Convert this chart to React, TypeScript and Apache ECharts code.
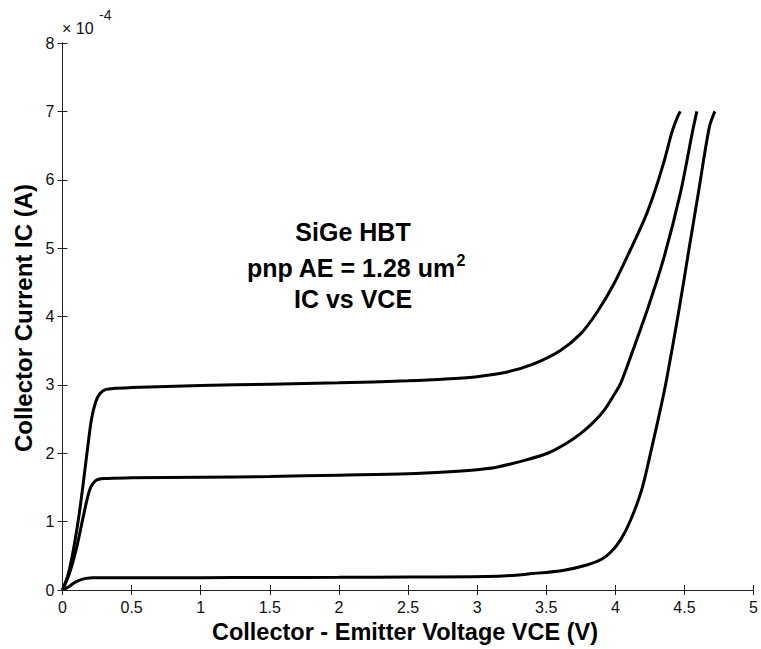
import React, { useEffect, useRef } from "react";
import * as echarts from "echarts";

// Collector–emitter voltage (V) and collector current (units of 1e-4 A)
const vceLow = [0, 0.04, 0.08, 0.12, 0.17, 0.22, 0.5, 1.0, 1.5, 2.0, 2.5, 3.15, 3.4, 3.63, 3.8, 3.9, 3.97, 4.04, 4.11, 4.19, 4.26, 4.33, 4.37, 4.46, 4.53, 4.6, 4.68, 4.72];
const icLow = [0, 0.04, 0.1, 0.14, 0.17, 0.18, 0.18, 0.18, 0.183, 0.185, 0.19, 0.2, 0.24, 0.29, 0.37, 0.45, 0.56, 0.74, 1.02, 1.46, 2.05, 2.68, 3.07, 4.09, 4.95, 5.8, 6.77, 7.0];

const vceMid = [0, 0.05, 0.1, 0.15, 0.196, 0.24, 0.3, 0.5, 1.0, 1.5, 2.0, 2.5, 2.8, 3.0, 3.15, 3.35, 3.51, 3.65, 3.75, 3.85, 3.92, 3.98, 4.04, 4.13, 4.23, 4.35, 4.47, 4.56, 4.59];
const icMid = [0, 0.24, 0.6, 1.07, 1.46, 1.6, 1.63, 1.64, 1.65, 1.66, 1.68, 1.7, 1.73, 1.76, 1.8, 1.9, 2.0, 2.15, 2.29, 2.47, 2.63, 2.82, 3.03, 3.52, 4.09, 4.85, 5.8, 6.72, 7.0];

const vceHigh = [0, 0.04, 0.08, 0.12, 0.15, 0.18, 0.21, 0.24, 0.27, 0.31, 0.38, 0.5, 1.0, 1.5, 2.0, 2.5, 2.8, 3.0, 3.2, 3.4, 3.6, 3.75, 3.87, 3.99, 4.11, 4.21, 4.28, 4.35, 4.41, 4.45, 4.47];
const icHigh = [0, 0.22, 0.6, 1.1, 1.56, 2.05, 2.5, 2.75, 2.87, 2.93, 2.95, 2.96, 2.99, 3.01, 3.03, 3.06, 3.09, 3.12, 3.18, 3.3, 3.5, 3.75, 4.07, 4.48, 4.98, 5.42, 5.8, 6.25, 6.7, 6.92, 7.0];

const xTicks = [0, 0.5, 1, 1.5, 2, 2.5, 3, 3.5, 4, 4.5, 5];
const yTicks = [0, 1, 2, 3, 4, 5, 6, 7, 8];

const FONT = "'Liberation Sans', Arial, Helvetica, sans-serif";

function zip(xs: number[], ys: number[]) {
  return xs.map((x, i) => [x, ys[i]]);
}

export default function App() {
  const ref = useRef<HTMLDivElement>(null);
  useEffect(() => {
    document.body.style.margin = "0";
    const chart = echarts.init(ref.current!, null, { renderer: "svg" });
    const axisLine = { show: true, lineStyle: { color: "#222", width: 1 } };
    const tick = { show: true, inside: true, length: 5, lineStyle: { color: "#222", width: 1 } };
    const lineSeries = (name: string, xs: number[], ys: number[]) => ({
      type: "line",
      name,
      data: zip(xs, ys),
      showSymbol: false,
      smooth: 0.3,
      lineStyle: { color: "#000", width: 3 },
      xAxisIndex: 0,
      yAxisIndex: 0,
    });
    chart.setOption({
      animation: false,
      backgroundColor: "#fff",
      grid: { left: 62.5, right: 4, top: 43, bottom: 59, containLabel: false },
      xAxis: [
        {
          type: "value", position: "bottom", min: xTicks[0], max: xTicks[xTicks.length - 1], interval: 0.5,
          axisLine, axisTick: tick, splitLine: { show: false },
          axisLabel: { fontFamily: FONT, fontSize: 16, color: "#111", margin: 9, formatter: (v: number) => String(v) },
        },
        {
          type: "value", position: "top", min: 0, max: 5, interval: 0.5,
          axisLine, axisTick: tick, splitLine: { show: false }, axisLabel: { show: false },
        },
      ],
      yAxis: [
        {
          type: "value", position: "left", min: yTicks[0], max: yTicks[yTicks.length - 1], interval: 1,
          axisLine, axisTick: tick, splitLine: { show: false },
          axisLabel: { fontFamily: FONT, fontSize: 16, color: "#111", margin: 8 },
        },
        {
          type: "value", position: "right", min: 0, max: 8, interval: 1,
          axisLine, axisTick: tick, splitLine: { show: false }, axisLabel: { show: false },
        },
      ],
      series: [
        lineSeries("IB1", vceLow, icLow),
        lineSeries("IB2", vceMid, icMid),
        lineSeries("IB3", vceHigh, icHigh),
      ],
      graphic: [
        {
          type: "text", x: 23, y: 318, rotation: Math.PI / 2,
          style: { text: "Collector Current IC (A)", font: `bold 24px ${FONT}`, fill: "#000", align: "center", verticalAlign: "middle" },
        },
        {
          type: "text", x: 405, y: 632,
          style: { text: "Collector - Emitter Voltage VCE (V)", font: `bold 23.5px ${FONT}`, fill: "#000", align: "center", verticalAlign: "middle" },
        },
        {
          type: "text", x: 62, y: 28,
          style: { text: "× 10", font: `16px ${FONT}`, fill: "#111", align: "left", verticalAlign: "middle" },
        },
        {
          type: "text", x: 99, y: 15,
          style: { text: "-4", font: `14px ${FONT}`, fill: "#111", align: "left", verticalAlign: "middle" },
        },
        {
          type: "text", x: 353, y: 232,
          style: { text: "SiGe HBT", font: `bold 25px ${FONT}`, fill: "#000", align: "center", verticalAlign: "middle" },
        },
        {
          type: "text", x: 356, y: 268,
          style: {
            text: "{a|pnp AE = 1.28 um}{s|2}",
            align: "center", verticalAlign: "middle",
            rich: {
              a: { font: `bold 25px ${FONT}`, fill: "#000", lineHeight: 30 },
              s: { font: `bold 16px ${FONT}`, fill: "#000", lineHeight: 30, padding: [0, 0, 16, 1] },
            },
          },
        },
        {
          type: "text", x: 353, y: 299,
          style: { text: "IC vs VCE", font: `bold 25px ${FONT}`, fill: "#000", align: "center", verticalAlign: "middle" },
        },
      ],
    });
    return () => chart.dispose();
  }, []);
  return <div ref={ref} style={{ position: "fixed", left: 0, top: 0, width: 761, height: 649 }} />;
}
